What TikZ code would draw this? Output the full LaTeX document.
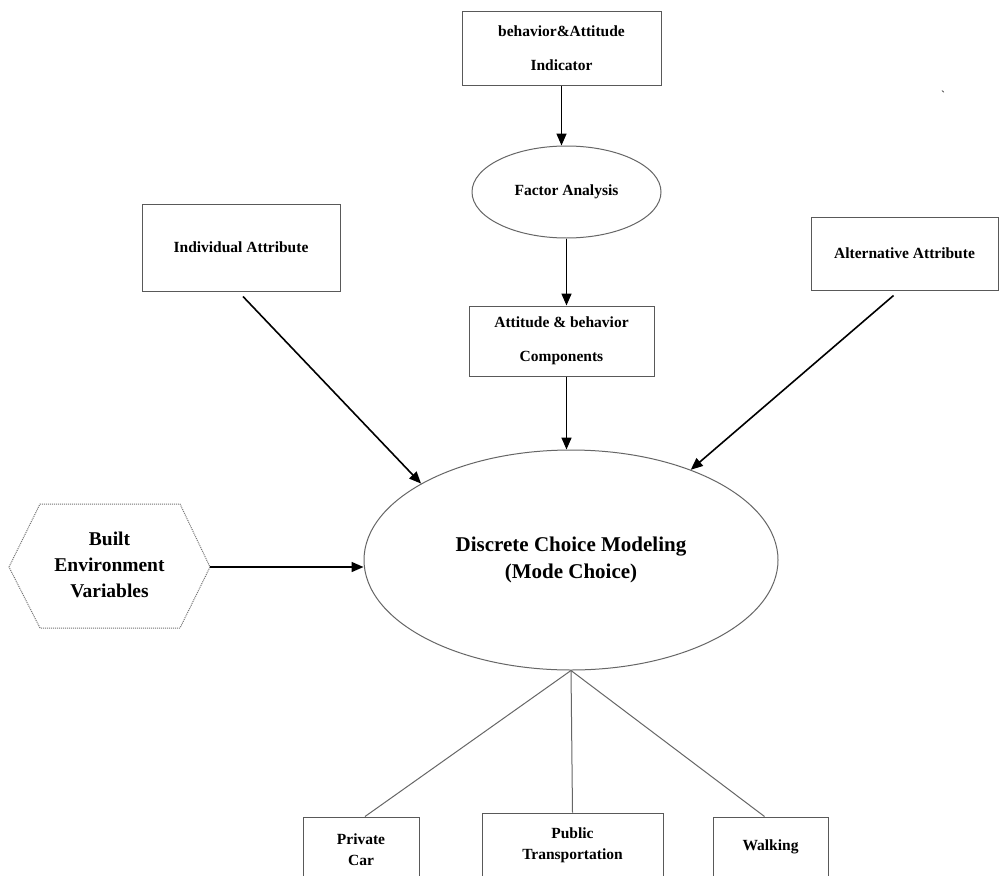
\documentclass[tikz,border=0pt]{standalone}
\usepackage{fontspec}
\setmainfont{Liberation Serif}
\usetikzlibrary{arrows.meta,shapes.geometric}
\begin{document}
\begin{tikzpicture}[x=1pt,y=-1pt,
  box/.style={draw=black!65,line width=1pt,fill=white,align=center,inner sep=0pt,font=\bfseries\fontsize{15.5}{34}\selectfont},
  smallbox/.style={box,font=\bfseries\fontsize{15.5}{21}\selectfont},
  oval/.style={ellipse,draw=black!60,line width=1pt,fill=white,align=center,inner sep=0pt},
  arr/.style={-{Triangle[length=12pt,width=10pt]},line width=1.6pt,black},
  ln/.style={draw=black!60,line width=1pt}]
\clip (0,0) rectangle (1000,875);
\fill[white] (0,0) rectangle (1000,875);

\node[box,minimum width=199pt,minimum height=73pt] (top) at (561.5,48.5) {behavior\&Attitude\\Indicator};
\node[oval,minimum width=189pt,minimum height=92pt,font=\bfseries\fontsize{15.5}{20}\selectfont] (factor) at (566.5,192) {Factor Analysis};
\node[box,minimum width=185pt,minimum height=70pt] (att) at (561.5,341) {Attitude \& behavior\\Components};
\node[box,minimum width=198pt,minimum height=87pt] (indiv) at (241,247.5) {Individual Attribute};
\node[box,minimum width=187pt,minimum height=73pt] (alt) at (904.5,253.5) {Alternative Attribute};
\node[oval,minimum width=414pt,minimum height=220pt,font=\bfseries\fontsize{21}{27}\selectfont] (big) at (571,560) {Discrete Choice Modeling\\(Mode Choice)};

\draw[black!55,densely dotted,line width=1pt] (9,567) -- (40,504) -- (180,504) -- (210,567) -- (180,628) -- (40,628) -- cycle;
\node[align=center,font=\bfseries\fontsize{19.5}{26}\selectfont] (hex) at (109.5,565) {Built\\Environment\\Variables};
\coordinate (hexE) at (210,567);

\node[smallbox,minimum width=116pt,minimum height=66pt] (car) at (361,850) {Private\\Car};
\node[smallbox,minimum width=181pt,minimum height=64pt] (pub) at (572.5,845) {Public\\Transportation};
\node[smallbox,minimum width=115pt,minimum height=60pt] (walk) at (770.5,847) {Walking};

\node[font=\fontsize{12}{12}\selectfont] (tick) at (943,95) {\textasciigrave};

\draw[arr] (top.south) -- (top.south |- factor.north);
\draw[arr] (factor.south) -- (factor.south |- att.north);
\draw[arr] (att.south -| factor.south) -- (factor.south |- big.north);
\draw[arr] ([xshift=2pt,yshift=-5pt]indiv.south) -- (big.153);
\draw[arr] ([xshift=-11pt,yshift=-5pt]alt.south) -- (big.37);
\draw[arr] (hexE) -- (hexE -| big.west);

\draw[ln] (big.south) -- ([xshift=4pt]car.north);
\draw[ln] (big.south) -- (pub.north);
\draw[ln] (big.south) -- ([xshift=-6pt]walk.north);
\end{tikzpicture}
\end{document}
